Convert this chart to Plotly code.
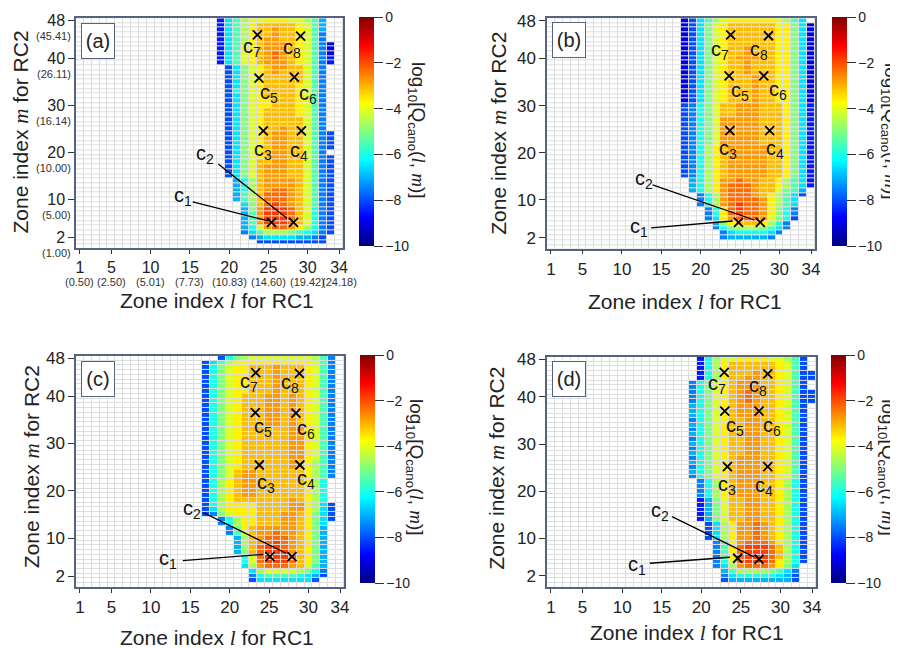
import numpy as np
import plotly.graph_objects as go

W, H = 898, 648
OFF = 8  # the page shows the figure 8 px in from the top-left corner
# legend of the cell codes: code char -> log10 value read from the colour
LEVEL_CODES = "0123456789ABCDEFGHIJK"
LEVEL_VALUES = [-10.0, -9.5, -9.0, -8.5, -8.0, -7.5, -7.0, -6.5, -6.0, -5.5, -5.0,
                -4.6, -4.1, -3.6, -3.1, -2.75, -2.3, -1.85, -1.5, -1.0, -0.5]

# rows from m=48 (top) down to m=1; (first column l, codes for consecutive columns)
rows_a = [
 (19, "379BCCDDDCCB96"), (19, "379BDEEEEEDC96"), (19, "379BDEEFEEDC96"), (19, "379BDEEFEEDC95"),
 (19, "379BDEFFEEDC95"), (19, "379BDEFFFEDC952"), (19, "379CDEFFFEDC952"), (19, "379CDEFGFEDC952"),
 (19, "379CDEFGFEDC953"), (19, "379CDEFFFEDC953"), (20, "47ACDEFFEEC95"), (20, "47ACDEFEEEC95"),
 (20, "47ACDEEEEEC95"), (20, "47ACDEEEEEC95"), (20, "47ACDEEEEDC95"), (20, "48ACDEEEEDC95"),
 (20, "47ACDEEEEDC95"), (20, "47ACDDEEEDC95"), (20, "47ACDDEEEDC95"), (20, "47ACDEEEEDC95"),
 (20, "47ACDEEEEDC95"), (20, "47ACDEEEEEC95"), (20, "47ACDEEEEEC95"), (20, "47ACDEEFEEC95"),
 (20, "47ACDEFFEEC954"), (20, "47ACDEFFEEC954"), (20, "47ACDEFFEEC954"), (20, "47ACDEFFEEC954"),
 (20, "47ACDEFFEEC95"), (20, "47ACDEFFEEC954"), (20, "47ACEEFFEEC954"), (20, "47ACEFFFEEC954"),
 (20, "47ACEFFFEEC954"), (20, "47ACEFFFEEC954"), (21, "68BEFFFFEC954"), (21, "68BEFFFFEC954"),
 (21, "68BEFGGFEC954"), (21, "69BEGGGFEC954"), (21, "69BEGGGFEC954"), (22, "7AEGHGFEC954"),
 (22, "6AFHHHGEC854"), (22, "69FHHHGEC854"), (22, "69FHHHGEC854"), (22, "69FHHHGEC854"),
 (22, "68CFGGFDB854"), (22, "579BBBA98754"), (23, "5677776654"), (24, "444444444"),
]
rows_b = [
 (18, "2479BCDDDDDDCB97"), (18, "247ACDEEEEEEDDA72"), (18, "247ACDEEEEEEDDA72"), (18, "247ACDEEEEEEDDA72"),
 (18, "247ACDEEEEEEDDA72"), (18, "247ACDEEEEEEDDA72"), (18, "247ACDEEFEEEDDA72"), (18, "247ACDEEFEEEDDA72"),
 (18, "247ACDEFFFEEDDA72"), (18, "247ACDEEFEEEDDA72"), (18, "247ACDEEFEEEDDA72"), (18, "247ACDEEFEEEDDA72"),
 (18, "247ACDEEEFEEDDA72"), (18, "247ACDEEEFEEDDA72"), (18, "247ACDEEEFEEDDA72"), (18, "247ACDEEEFEEDDA72"),
 (18, "247ACDEEEFEEDDA72"), (18, "247ACDEEEFEEDDA72"), (18, "458ACEEFFFEEEDA73"), (18, "458ACEEFFFEEEDA73"),
 (18, "458ACEEFFFEEEDA73"), (18, "458ACFFFFFEEEDA73"), (18, "458ACFFFFFEEEDA73"), (18, "458ACFFFFFEEEDA73"),
 (18, "458ACFFFFFEEEDA73"), (18, "458ACFFFFFEEEDA73"), (18, "458ACFFFFFEEEDA73"), (18, "458BDEFFFFFEEDA73"),
 (18, "458BDEFFFFFEEDA73"), (18, "458BDEFFFFFEEDA73"), (18, "458BDEFFFFFEEDA73"), (18, "458BDEFFFFFEEDA73"),
 (18, "458BDEFFFFFEEDA73"), (18, "458BDEFFFFFEEDA73"), (19, "68BDFFGFFEEDB973"), (19, "68BDFGGGFEEDB973"),
 (19, "68BDFGGGFEECA96"), (20, "58BFGGGFEDB974"), (20, "58BFGGGGFDB97"), (20, "58BFGHGGFDB97"),
 (21, "58DGHGGFDA85"), (21, "58DGHGGFDA85"), (21, "57DFGGGFCA84"), (22, "6ADEEEDB85"),
 (22, "58ABBBA975"), (23, "57888875"), (23, "5666665"),
]
rows_c = [
 (19, "48ABCCCCCCCCB95"), (17, "479BCDDDDDDDDDC95"), (17, "48ACDDEEEFEEEDC95"), (17, "48ACDDEEEFEEEDC95"),
 (17, "48ACDDEEEFEEEDC95"), (17, "48ACDDEEEFEEEDC95"), (17, "48ACDDEEEFEEEDC95"), (17, "48ACDDEEEFEEEDC95"),
 (17, "48ACDEEEFFEFEDC95"), (17, "48ACDEEEFFEFEDC95"), (17, "48ACDEEEFFEFEDC95"), (17, "48ACDEEEFFEFEDC95"),
 (17, "48ACDEEEFFEFEDC95"), (17, "48ACDEEEFFEFEDC95"), (17, "48ACDEEEFFEFEDC95"), (17, "48ACDEEEEEEFFDC95"),
 (17, "48ACDEEEEEEFFDC95"), (17, "48ACDEEEEEEFFDC95"), (17, "48ACDEEEEEEFFDC95"), (17, "48ACDEEEEEEFFDC95"),
 (17, "48ACDEEEEEEFFDC95"), (17, "48ACDEEEEEEFFDC95"), (17, "48ACDEEEEEEFEDB95"), (17, "48ACDEEEEEEFEDB95"),
 (17, "48ACEFFEEEEEEDB95"), (17, "48ACEFFEEEEEEDB95"), (17, "48BDEFFEEEEEEDB8"), (17, "48BDEFFEEEEEEDB8"),
 (17, "48BDEFFEEEEEEDB8"), (17, "48BDEFFEEEEEEDB8"), (17, "48BDEEEEEEEFEDB8"), (17, "48BDDDDEEEEFFDB74"),
 (17, "47BDDDDEEEEFFDB74"), (17, "45ACDDDEEEFFEDA74"), (19, "58BDDEEEFFEDA74"), (19, "58BDDEEEFFEDA7"),
 (20, "5ADEFFFFFEDA6"), (20, "59CEFFGFFEDA6"), (21, "6BEFGGGFEDA6"), (21, "6BEFGHGFEDA6"),
 (21, "6BEGHHGFEDA6"), (21, "6AEGHHHFEDA6"), (22, "8CGHHHGEDA6"), (22, "8CGHHHGEDA6"),
 (22, "7BFGGGFEC96"), (23, "7BCCCCBA85"), (23, "5899998764"), (23, "477777774"),
]
rows_d = [
 (20, "38BCCDDDDCCB94"), (20, "38BDEEEEEEDC94"), (20, "38BDEEEEEEDC94"), (20, "38BDEEEFEEDC944"),
 (20, "38BDEEFFEEDC944"), (19, "58ACDEFFFEEDC94"), (19, "58ACDEFFFEEDC94"), (19, "58ACDEFGFEEDC944"),
 (19, "58ACDEFGFEEDC944"), (19, "58ACDEFGFEEDC944"), (19, "68ACDEFFFEEDC94"), (19, "68ACDEFFFEEDC94"),
 (19, "68ACDEFFFEEDC94"), (19, "58ACDEEFFEEDC94"), (19, "68ACDEEFFEEDC94"), (19, "58ACDEEFFEEDC94"),
 (19, "68ACDEEFFEEDC94"), (19, "58ACDEEFFEEDC94"), (19, "68ACDEEFFEEDC94"), (19, "58ACDEEFFEEDC94"),
 (19, "68ACDEEFFEEDC94"), (19, "58ACDEFFFEEDC94"), (19, "68ACDEFFFEEDC94"), (19, "58ACDEFFFEEDC94"),
 (19, "68ACDEFFFEEDC94"), (19, "58ACDEFFFEEDC94"), (20, "58BDEFFFEEDB84"), (20, "58BDEFFFEEDB84"),
 (20, "58BDEFFFEEDB84"), (20, "58BDEFFFEEDB84"), (20, "36ACEEFFEEDB84"), (20, "36ACEEFFEEDB84"),
 (20, "36ACEEFFEEDB84"), (20, "36ACEEFFEEDB84"), (20, "36ACEEFFEEDB84"), (21, "47BDFFGFEDB84"),
 (21, "47BDFFGFEDB84"), (21, "47BDFFGFEDB84"), (21, "47BDFFGFEDB84"), (22, "59DFGGGFDB84"),
 (22, "59DGHHHGEB84"), (22, "59DGHHHGEB84"), (22, "59DGHHHGEB84"), (22, "58CGHHHGDB84"),
 (22, "57BFGGGFDA7"), (23, "69BBBBA975"), (23, "5788888764"), (23, "4666666664"),
]

x_ticks = [1, 5, 10, 15, 20, 25, 30, 34]
y_ticks = [2, 10, 20, 30, 40, 48]
x_sub_a = ["(0.50)", "(2.50)", "(5.01)", "(7.73)", "(10.83)", "(14.60)", "(19.42)", "(24.18)"]
y_sub_a = ["(1.00)", "(5.00)", "(10.00)", "(16.14)", "(26.11)", "(45.41)"]
cb_ticks = [0, -2, -4, -6, -8, -10]

point_names = ["1", "2", "3", "4", "5", "6", "7", "8"]
pts_x = {"a": [25.4, 28.2, 24.35, 29.2, 23.8, 28.3, 23.6, 29.1],
         "b": [24.8, 27.56, 23.7, 28.75, 23.6, 28.0, 23.8, 28.6],
         "c": [25.1, 27.9, 23.76, 28.9, 23.25, 28.4, 23.3, 28.84],
         "d": [24.6, 27.3, 23.3, 28.4, 22.97, 27.3, 22.9, 28.4]}
pts_y = {"a": [5.2, 5.2, 24.6, 24.6, 35.8, 36.0, 45.0, 44.7],
         "b": [5.27, 5.27, 24.7, 24.7, 36.3, 36.3, 45.0, 44.8],
         "c": [6.08, 6.08, 25.45, 25.45, 36.5, 36.4, 44.95, 44.8],
         "d": [5.76, 5.55, 25.2, 25.2, 37.0, 37.0, 45.2, 44.9]}
lab_x = {"a": [14.16, 16.93, 24.35, 28.94, 25.1, 30.08, 22.87, 27.97],
         "b": [12.2, 12.85, 23.5, 29.4, 24.95, 29.8, 22.4, 27.4],
         "c": [12.2, 15.2, 24.6, 29.7, 24.2, 29.7, 22.5, 27.7],
         "d": [11.84, 14.8, 23.3, 27.9, 24.3, 28.95, 22.0, 27.2]}
lab_y = {"a": [10.6, 19.5, 20.4, 20.3, 32.6, 32.4, 42.35, 42.0],
         "b": [4.1, 14.25, 20.8, 20.8, 32.9, 33.1, 41.7, 41.6],
         "c": [5.4, 16.1, 21.6, 22.3, 33.4, 33.0, 42.8, 42.7],
         "d": [4.3, 15.65, 21.3, 21.0, 33.7, 33.7, 42.55, 42.3]}
# leader lines for c1 and c2: start (near label) -> end (near point)
lead_x = {"a": [[15.36, 24.99], [18.62, 27.4]], "b": [[13.7, 24.06], [13.9, 26.8]],
          "c": [[14.04, 24.27], [16.66, 27.15]], "d": [[13.5, 23.6], [16.3, 26.6]]}
lead_y = {"a": [[9.56, 5.5], [17.57, 6.03]], "b": [[4.1, 5.55], [13.2, 5.76]],
          "c": [[5.23, 6.58], [15.4, 6.8]], "d": [[4.7, 5.97], [14.6, 6.1]]}

FONT = "Liberation Sans"
FRAME = "#56627e"
JET = [[0.0, "rgb(0,0,128)"], [0.125, "rgb(0,0,255)"], [0.375, "rgb(0,255,255)"],
       [0.625, "rgb(255,255,0)"], [0.875, "rgb(255,0,0)"], [1.0, "rgb(128,0,0)"]]

panels = [
    dict(key="a", rows=rows_a, xd=(76, 343), yd=(18.3, 248.3), cb=(359, 17, 246), cbt=(417, 130),
         xt=(216.7, 301), yt=(20, 132.5), lab=(98, 41), xfont=16, yfont=16),
    dict(key="b", rows=rows_b, xd=(547, 815), yd=(18.3, 248.6), cb=(832, 17, 246), cbt=(890, 131),
         xt=(684.5, 302), yt=(498.3, 133.5), lab=(568.5, 40.5), xfont=17, yfont=17),
    dict(key="c", rows=rows_c, xd=(76, 344), yd=(355.9, 586.9), cb=(360, 355, 583), cbt=(415, 467),
         xt=(216.7, 638), yt=(31.7, 466.5), lab=(98, 378.5), xfont=17, yfont=17),
    dict(key="d", rows=rows_d, xd=(547, 816), yd=(356.9, 586.8), cb=(831, 355, 583), cbt=(886.7, 468),
         xt=(686.5, 633), yt=(496.7, 468), lab=(569, 378.5), xfont=17, yfont=17),
]

def fx(px):
    return (px - OFF) / W

def fy(py):
    return 1 - (py - OFF) / H

def build_z(rows):
    z = np.full((48, 34), np.nan)
    for i, (c0, codes) in enumerate(rows):
        m = 48 - i
        for j, ch in enumerate(codes):
            if ch != ".":
                z[m - 1, c0 - 1 + j] = LEVEL_VALUES[LEVEL_CODES.index(ch)]
    return z

serif_l = "<span style='font-family:Liberation Serif'><i>l</i></span>"
serif_m = "<span style='font-family:Liberation Serif'><i>m</i></span>"

fig = go.Figure()
annotations = []
layout_axes = {}
cols = list(range(1, 35))
rows_m = list(range(1, 49))

def paper_text(px, py, text, size, angle=0, **kw):
    d = dict(x=fx(px), y=fy(py), xref="paper", yref="paper", xanchor="center", yanchor="middle",
             text=text, showarrow=False, textangle=angle,
             font=dict(family=FONT, size=size, color="#222"))
    d.update(kw)
    return d

for k, p in enumerate(panels):
    n = "" if k == 0 else str(k + 1)
    xa, ya = "x" + n, "y" + n
    key = p["key"]
    fig.add_trace(go.Heatmap(z=np.zeros((49, 34)), x=cols, y=list(range(0, 49)),
                             colorscale=[[0, "white"], [1, "white"]], showscale=False,
                             xgap=1, ygap=1, hoverinfo="skip", xaxis=xa, yaxis=ya))
    cbx, cbt, cbb = p["cb"]
    fig.add_trace(go.Heatmap(
        z=build_z(p["rows"]), x=cols, y=rows_m, colorscale=JET, zmin=-10, zmax=0,
        xgap=1, ygap=1, hoverongaps=False, xaxis=xa, yaxis=ya,
        colorbar=dict(x=fx(cbx), xanchor="left", y=fy((cbt + cbb) / 2), yanchor="middle",
                      len=(cbb - cbt) / H, lenmode="fraction", thickness=15, xpad=0, ypad=0,
                      outlinewidth=0, tickvals=cb_ticks, ticks="outside", ticklen=9,
                      tickcolor="#333", tickfont=dict(family=FONT, size=14, color="#222"))))
    for lx, ly in zip(lead_x[key], lead_y[key]):
        fig.add_trace(go.Scatter(x=lx, y=ly, mode="lines", line=dict(color="black", width=1.3),
                                 showlegend=False, hoverinfo="skip", xaxis=xa, yaxis=ya))
    fig.add_trace(go.Scatter(x=pts_x[key], y=pts_y[key], mode="markers", showlegend=False,
                             marker=dict(symbol="x-thin", size=9, line=dict(color="black", width=1.8)),
                             xaxis=xa, yaxis=ya))
    for nm, lx, ly in zip(point_names, lab_x[key], lab_y[key]):
        annotations.append(dict(x=lx, y=ly, xref=xa, yref=ya, xanchor="center", yanchor="middle",
                                text="c<sub>%s</sub>" % nm, showarrow=False,
                                font=dict(family=FONT, size=20, color="#111")))
    layout_axes["xaxis" + n] = dict(domain=[fx(p["xd"][0]), fx(p["xd"][1])], range=[0.5, 34.5],
                                    anchor=ya, tickvals=x_ticks, ticks="outside", ticklen=4,
                                    tickcolor="#333", showgrid=False, zeroline=False, showline=True,
                                    mirror=True, linecolor=FRAME, linewidth=1.5,
                                    tickfont=dict(family=FONT, size=p["xfont"], color="#222"))
    layout_axes["yaxis" + n] = dict(domain=[fy(p["yd"][1]), fy(p["yd"][0])], range=[-0.3, 48.5],
                                    anchor=xa, tickvals=y_ticks, ticks="outside", ticklen=6,
                                    tickcolor="#333", showgrid=False, zeroline=False, showline=True,
                                    mirror=True, linecolor=FRAME, linewidth=1.5,
                                    tickfont=dict(family=FONT, size=p["yfont"], color="#222"))
    annotations.append(paper_text(p["xt"][0], p["xt"][1], "Zone index %s for RC1" % serif_l, 21))
    annotations.append(paper_text(p["yt"][0], p["yt"][1], "Zone index %s for RC2" % serif_m, 21, -90))
    annotations.append(paper_text(p["cbt"][0], p["cbt"][1],
                                  "log<sub>10</sub>[Q<sub>cano</sub>(%s, %s)]" % (serif_l, serif_m), 19, 90))
    annotations.append(paper_text(p["lab"][0], p["lab"][1], "(%s)" % key, 20, width=28, height=30,
                                  bordercolor=FRAME, borderwidth=1, borderpad=2, bgcolor="white"))

for v, t in zip(x_ticks, x_sub_a):
    annotations.append(dict(x=v, y=fy(282), xref="x", yref="paper", xanchor="center",
                            yanchor="middle", text=t, showarrow=False,
                            font=dict(family=FONT, size=11, color="#333")))
for v, t in zip(y_ticks, y_sub_a):
    annotations.append(dict(x=fx(73), y=v, xref="paper", yref="y", yshift=-15.5, xanchor="right",
                            yanchor="middle", text=t, showarrow=False,
                            font=dict(family=FONT, size=11, color="#333")))

fig.update_layout(width=W, height=H, margin=dict(l=0, r=0, t=0, b=0, autoexpand=False),
                  paper_bgcolor="white", plot_bgcolor="#dcdcdc", showlegend=False,
                  annotations=annotations, **layout_axes)
fig.write_html("out.html")
